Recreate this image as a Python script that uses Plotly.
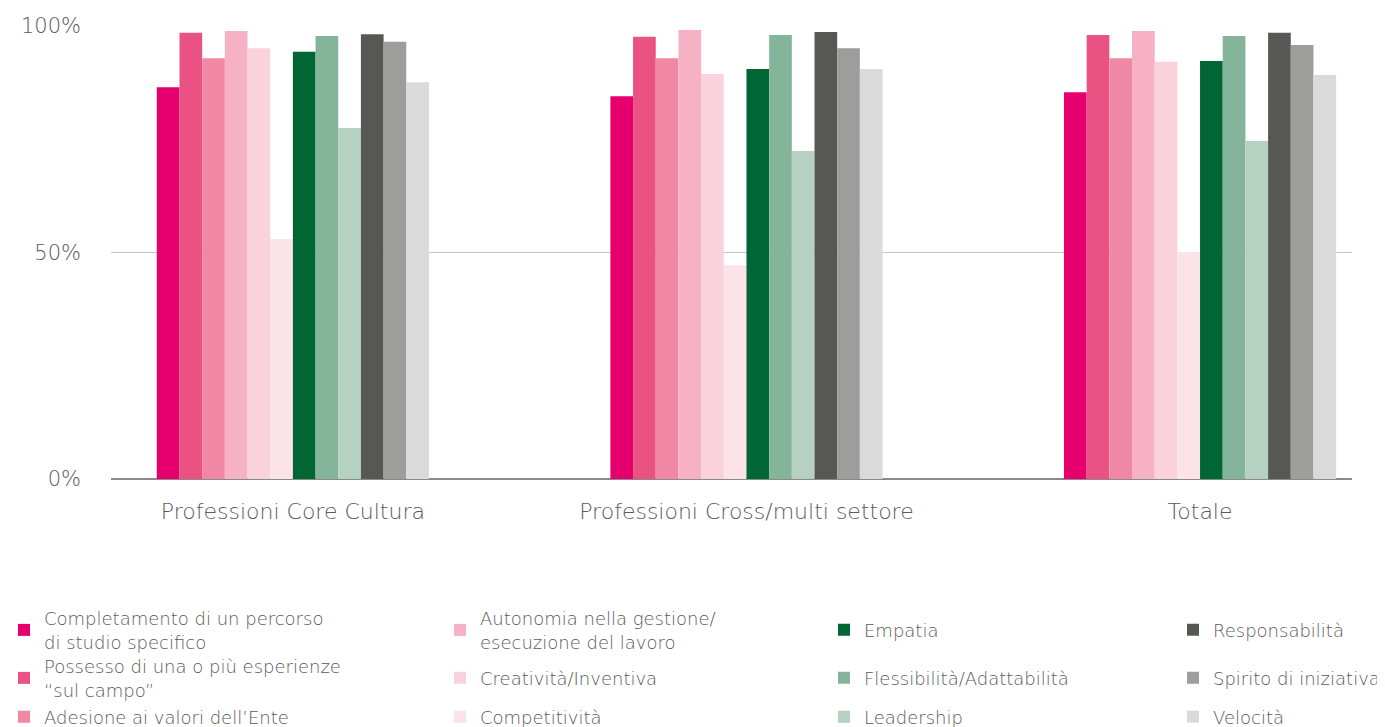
import plotly.graph_objects as go

# data ---------------------------------------------------------------------------------------------------------------
categories = ["Professioni Core Cultura", "Professioni Cross/multi settore", "Totale"]

series_names = [
    "Completamento di un percorso<br>di studio specifico",
    "Possesso di una o più esperienze<br>“sul campo”",
    "Adesione ai valori dell’Ente",
    "Autonomia nella gestione/<br>esecuzione del lavoro",
    "Creatività/Inventiva",
    "Competitività",
    "Empatia",
    "Flessibilità/Adattabilità",
    "Leadership",
    "Responsabilità",
    "Spirito di iniziativa",
    "Velocità",
]

completamento   = [86.5, 84.5, 85.4]
possesso        = [98.5, 97.6, 98.0]
adesione        = [92.9, 92.9, 92.9]
autonomia       = [98.9, 99.1, 98.9]
creativita      = [95.1, 89.4, 92.1]
competitivita   = [53.0, 47.2, 50.1]
empatia         = [94.3, 90.5, 92.3]
flessibilita    = [97.8, 98.0, 97.8]
leadership      = [77.5, 72.4, 74.6]
responsabilita  = [98.2, 98.7, 98.5]
spirito         = [96.5, 95.1, 95.8]
velocita        = [87.6, 90.5, 89.2]

values = [completamento, possesso, adesione, autonomia, creativita, competitivita,
          empatia, flessibilita, leadership, responsabilita, spirito, velocita]

ytick_vals = [0, 50, 100]
ytick_text = ["0%", "50%", "100%"]

# style --------------------------------------------------------------------------------------------------------------
COLORS = [
    "#E6006E", "#EA5284", "#F088A5", "#F6B2C4", "#F9D2DC", "#FCE3EA",
    "#006633", "#84B49A", "#B5D1C2", "#575756", "#9D9D9C", "#DADADA",
]
TXTCOL = "#5a5a5a"
FONT = "DejaVu Sans"
W, H = 1377, 719           # page body has an 8px offset
OFF = 8
ML, MR, MT, MB = 103, 33, 18, 248
PLOT_W = W - ML - MR
PLOT_H = H - MT - MB
LEGEND_LEFT_PX = [4, 440, 824, 1173]   # page pixels, one per legend column
LEGEND_ROW_PX = [630, 678, 717]        # page pixels, centre of each legend row

fig = go.Figure()

legends = {}
for i, (name, vals) in enumerate(zip(series_names, values)):
    key = "legend" if i == 0 else f"legend{i + 1}"
    col, row = divmod(i, 3)
    fig.add_trace(go.Bar(
        x=categories, y=vals, name=name,
        marker=dict(color=COLORS[i], line=dict(width=0)),
        legend=key,
        hovertemplate="%{x}<br>%{y:.1f}%<extra></extra>",
    ))
    legends[key] = dict( # one legend per entry, placed on a 4x3 grid
        orientation="v",
        xref="paper", yref="paper",
        x=(LEGEND_LEFT_PX[col] - OFF - ML) / PLOT_W,
        y=(MT + PLOT_H - (LEGEND_ROW_PX[row] - OFF)) / PLOT_H,
        xanchor="left", yanchor="middle",
        font=dict(family=FONT, size=18, color=TXTCOL, weight=300),
        bgcolor="rgba(0,0,0,0)",
        itemclick=False, itemdoubleclick=False,
    )

fig.update_layout(
    width=W, height=H,
    barmode="group", bargap=0.4, bargroupgap=0,
    paper_bgcolor="white", plot_bgcolor="white",
    font=dict(family=FONT, size=22, color=TXTCOL, weight=300),
    margin=dict(l=ML, r=MR, t=MT, b=MB, autoexpand=False),
    showlegend=True,
    **legends,
)

fig.update_xaxes(
    range=[-0.401, 2.335],
    showgrid=False, zeroline=False, showline=False,
    ticks="", ticklabelstandoff=17,
    tickfont=dict(family=FONT, size=22, color=TXTCOL, weight=300),
)
fig.update_yaxes(
    range=[0, 100],
    tickvals=ytick_vals, ticktext=ytick_text,
    showgrid=True, gridcolor="#c6c6c6", gridwidth=1,
    zeroline=True, zerolinecolor="#8a8a8a", zerolinewidth=1.5,
    showline=False, ticks="", ticklabelstandoff=29,
    tickfont=dict(family=FONT, size=21, color=TXTCOL, weight=300),
)

fig.write_html("out.html")
